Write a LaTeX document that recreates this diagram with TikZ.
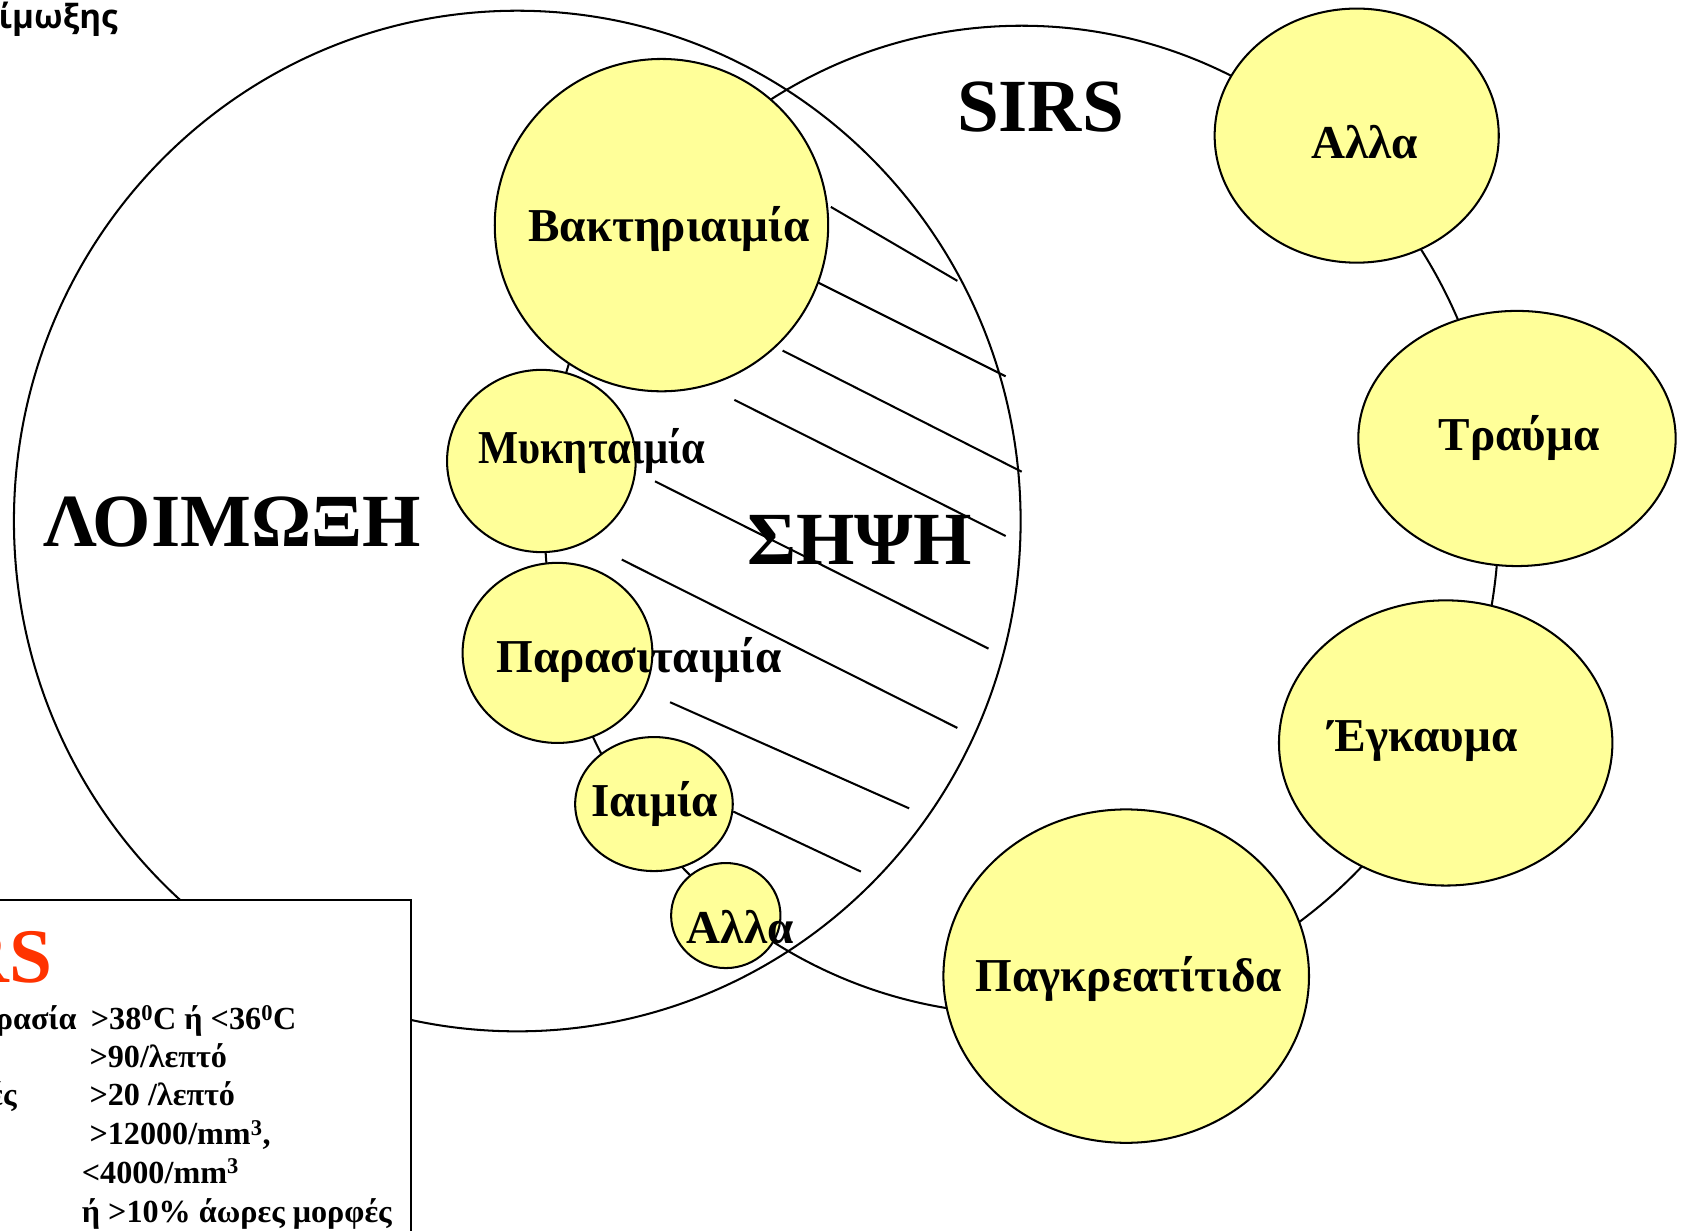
\documentclass[tikz,border=0pt]{standalone}
\usepackage{fontspec}
\setmainfont{Liberation Serif}
\newfontfamily\headsans{Open Sans}
\usetikzlibrary{shapes.geometric}
\definecolor{bubbleyellow}{RGB}{255,255,153}
\definecolor{sirsred}{RGB}{255,51,0}
\begin{document}
\begin{tikzpicture}[x=1pt,y=-1pt,
  bigring/.style={draw=black,line width=1.9pt,ellipse,inner sep=0pt},
  bubble/.style={draw=black,line width=1.9pt,fill=bubbleyellow,ellipse,inner sep=0pt},
  lbl/.style={font=\fontsize{44}{48}\selectfont\bfseries,anchor=base,inner sep=0pt},
  biglbl/.style={font=\fontsize{70}{74}\selectfont\bfseries,anchor=base,inner sep=0pt},
  boxtxt/.style={font=\fontsize{30}{33}\selectfont\bfseries,anchor=base west,inner sep=0pt},
  hatch/.style={draw=black,line width=1.9pt}
]
\useasboundingbox (0,0) rectangle (1568,1148);
\begin{scope}
\clip (0,0) rectangle (1568,1148);
% large sets
\node[bigring,minimum width=939pt,minimum height=952pt] (loimoxi) at (482.5,486) {};
\node[bigring,minimum width=890pt,minimum height=922pt] (sirsring) at (953,485) {};
% hatching of the sepsis region
\draw[hatch] (775,193) -- (893,262);
\draw[hatch] (760,262) -- (938,351);
\draw[hatch] (730,327) -- (953,440);
\draw[hatch] (685,373) -- (938,500);
\draw[hatch] (611,449) -- (922,605);
\draw[hatch] (580,522) -- (893,679);
\draw[hatch] (625,655) -- (848,754);
\draw[hatch] (684,757) -- (803,813);
% bubbles
\node[bubble,minimum width=311pt,minimum height=310pt] (bakt) at (617,210) {};
\node[bubble,minimum width=176pt,minimum height=170pt] (myk) at (505,430) {};
\node[bubble,minimum width=177pt,minimum height=168pt] (paras) at (520,609) {};
\node[bubble,minimum width=147pt,minimum height=125pt] (iaim) at (610,750) {};
\node[bubble,minimum width=102pt,minimum height=98pt] (allaL) at (677,854) {};
\node[bubble,minimum width=265pt,minimum height=237pt] (allaR) at (1265.5,126.5) {};
\node[bubble,minimum width=296pt,minimum height=238pt] (trauma) at (1415,409) {};
\node[bubble,minimum width=311pt,minimum height=266pt] (egkauma) at (1348.5,693) {};
\node[bubble,minimum width=341pt,minimum height=311pt] (pagkr) at (1050.5,910.5) {};
% legend box
\draw[line width=1.9pt,fill=white] (-20,839.5) rectangle (383,1170);
% labels
\node[biglbl] (tloim) at (216.5,510) {ΛΟΙΜΩΞΗ};
\node[biglbl] (tsipsi) at (801.5,527) {ΣΗΨΗ};
\node[biglbl] (tsirs) at (970.5,123) {SIRS};
\node[lbl] (tbakt) at (624,225) {Βακτηριαιμία};
\node[lbl] (tmyk) at (552,432) {\scalebox{0.9}[1]{Μυκηταιμία}};
\node[lbl] (tparas) at (596,627) {Παρασιταιμία};
\node[lbl] (tiaim) at (610.5,762) {Ιαιμία};
\node[lbl] (tallaL) at (690.5,880) {Αλλα};
\node[lbl] (tallaR) at (1273,148) {Αλλα};
\node[lbl] (ttrauma) at (1417,420) {Τραύμα};
\node[lbl] (tegk) at (1327.5,701) {Έγκαυμα};
\node[lbl] (tpagkr) at (1053,925) {Παγκρεατίτιδα};
% top-left heading fragment
\node[font=\fontsize{31}{33}\selectfont\headsans\bfseries,anchor=base east,inner sep=0pt] (thead) at (110,27) {ίμωξης};
% legend text
\node[font=\fontsize{72}{76}\selectfont\bfseries,text=sirsred,anchor=base east,inner sep=0pt] (tsirsbox) at (49,916) {RS};
\node[boxtxt] (b1a) at (-4,960.7) {ρασία};
\node[boxtxt] (b1b) at (84.6,960.7) {>38\textsuperscript{0}C ή <36\textsuperscript{0}C};
\node[boxtxt] (b2) at (83.3,995.5) {>90/λεπτό};
\node[boxtxt] (b3a) at (-10,1031) {ές};
\node[boxtxt] (b3b) at (83.3,1031) {>20 /λεπτό};
\node[boxtxt] (b4) at (83.3,1068) {>12000/mm\textsuperscript{3},};
\node[boxtxt] (b5) at (76.2,1104) {<4000/mm\textsuperscript{3}};
\node[boxtxt] (b6) at (76.2,1140) {ή >10\% άωρες μορφές};
\end{scope}
\end{tikzpicture}
\end{document}
